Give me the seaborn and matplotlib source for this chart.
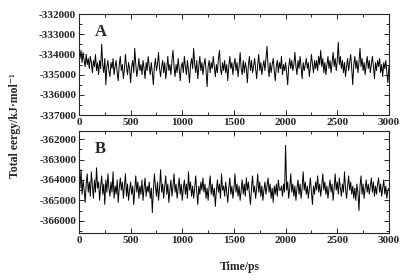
import numpy as np
import seaborn as sns
import matplotlib
matplotlib.use("Agg")
import matplotlib.pyplot as plt
from matplotlib.ticker import MultipleLocator

# sampling times (ps), one point every 10 ps
time_ps = np.arange(0, 3001, 10)

energy_A = [
    -333600, -334200, -333800, -334400, -333900, -334300, -334600, -334000, -334500, -334200,
    -334700, -334100, -334400, -334900, -334300, -334600, -334000, -334800, -334400, -335000,
    -334300, -334700, -333500, -334500, -334900, -334200, -335500, -334600, -334300, -334800,
    -335100, -334400, -334700, -334200, -335000, -334600, -334300, -334900, -335300, -334500,
    -334100, -334800, -334500, -335200, -334700, -334000, -334600, -335000, -334400, -334700,
    -335400, -334600, -334300, -334900, -333700, -334500, -335100, -334700, -334200, -334800,
    -334500, -335000, -334300, -334700, -335200, -334400, -334800, -334100, -334600, -335000,
    -334400, -334900, -335500, -334600, -334200, -334800, -334500, -333900, -334700, -335100,
    -334600, -334300, -334900, -334400, -335200, -334700, -334100, -334800, -334500, -335000,
    -334300, -333800, -334600, -335100, -334500, -334900, -334200, -334700, -335300, -334600,
    -334400, -334900, -334100, -334600, -335000, -334300, -334800, -335400, -334500, -334200,
    -334700, -333700, -334500, -334900, -334300, -335200, -334600, -334100, -334800, -334400,
    -335000, -334500, -334200, -334800, -335600, -334600, -334300, -334900, -334400, -334700,
    -334100, -334600, -335100, -334500, -334900, -334200, -333800, -334700, -335000, -334400,
    -334800, -334300, -334900, -334500, -335300, -334600, -334100, -334700, -334400, -335000,
    -334500, -334200, -334800, -334400, -335100, -334600, -333900, -334700, -335000, -334300,
    -334900, -334400, -334700, -335400, -334500, -334100, -334800, -334300, -334900, -334600,
    -334200, -334700, -335200, -334500, -334000, -334800, -334400, -335000, -334600, -334300,
    -334800, -334200, -333600, -334600, -335100, -334400, -334900, -334500, -334200, -334800,
    -335300, -334600, -334300, -334900, -334400, -334700, -334100, -335000, -334500, -334800,
    -334400, -334900, -335500, -334600, -334200, -334700, -334300, -334800, -334500, -333900,
    -334600, -335000, -334300, -334700, -334100, -334600, -335200, -334400, -334800, -334500,
    -334200, -334700, -334400, -335100, -334600, -334000, -334500, -334900, -334300, -334700,
    -334300, -334800, -334100, -334500, -333800, -334600, -334200, -334900, -334400, -335000,
    -334500, -334100, -334700, -334300, -334900, -334400, -333900, -334600, -334200, -334800,
    -334300, -333400, -334500, -334100, -334700, -334300, -334900, -334400, -335100, -334600,
    -334200, -334800, -334400, -334000, -334700, -335500, -334500, -334100, -334700, -334300,
    -334900, -334400, -333700, -334600, -334200, -334800, -334400, -335000, -334500, -334100,
    -334700, -334300, -334900, -334500, -334100, -334600, -335200, -334400, -334800, -334300,
    -334600, -334200, -334900, -334500, -335100, -334400, -334700, -334300, -334900, -335400,
    -334600,
]

energy_B = [
    -363800, -364400, -363500, -364700, -364000, -364500, -365100, -364200, -363700, -364600,
    -364100, -364800, -363600, -364300, -364900, -364000, -364600, -363400, -364400, -364100,
    -365000, -364300, -363800, -364700, -364200, -365200, -364000, -364600, -363700, -364400,
    -364800, -364100, -364600, -363600, -364900, -364300, -364700, -364000, -365100, -364400,
    -363900, -364500, -364100, -364900, -364300, -363700, -364800, -364200, -365000, -364500,
    -364100, -364700, -364300, -365200, -364500, -363800, -364600, -364100, -364900, -364300,
    -364700, -364000, -365000, -364400, -363900, -364800, -364300, -364600, -364100, -364900,
    -364400, -365600, -364500, -363700, -364300, -364800, -364100, -365000, -364400, -363500,
    -364600, -364200, -364900, -364300, -363800, -364700, -364200, -365100, -364500, -364000,
    -364800, -364300, -363700, -364600, -364200, -364900, -364400, -363900, -364700, -364200,
    -365000, -364400, -364000, -364700, -364200, -364900, -363600, -364500, -364100, -364800,
    -364300, -364900, -364400, -363800, -364600, -365200, -364300, -364700, -364100, -364500,
    -363900, -364600, -364200, -364900, -364400, -365000, -364300, -363800, -364700, -364200,
    -364800, -364400, -365300, -364500, -364000, -364600, -364200, -364900, -363700, -364500,
    -364300, -364800, -364100, -364600, -365100, -364400, -363900, -364700, -364300, -364900,
    -364400, -363700, -364600, -364200, -364800, -364300, -365000, -364500, -364000, -364700,
    -364200, -364800, -363900, -364500, -364100, -364700, -365200, -364400, -363800, -364600,
    -364300, -364900, -364400, -363700, -364600, -364100, -364800, -364300, -365000, -364500,
    -364100, -364700, -364300, -363900, -364600, -364200, -364900, -364400, -365100, -364300,
    -364700, -364200, -364800, -364000, -364500, -364500, -364300, -364800, -364200, -364600,
    -362300, -364500, -364100, -364900, -364400, -363700, -364600, -364200, -364800, -364300,
    -365000, -364400, -364000, -364700, -364200, -364900, -364400, -363600, -364500, -364100,
    -364700, -364300, -364900, -364400, -363900, -364600, -365200, -364300, -364700, -364100,
    -364500, -363800, -364600, -364200, -364800, -364300, -363700, -364500, -364100, -364700,
    -364300, -364900, -364400, -364000, -364600, -364200, -365000, -364400, -363700, -364500,
    -364100, -364700, -363900, -364400, -364800, -364200, -364600, -363600, -364400, -364900,
    -364300, -363800, -364500, -364100, -364700, -364300, -364900, -364400, -365000, -364200,
    -364600, -365500, -364300, -363800, -364700, -364200, -364900, -364400, -364000, -364600,
    -364200, -364700, -364300, -363900, -364600, -364100, -364800, -364300, -364700, -364200,
    -363900, -364600, -364200, -364800, -364400, -364000, -364700, -364300, -364900, -364500,
    -364400,
]

sns.set_style("ticks")
plt.rcParams['font.family'] = ['Liberation Serif', 'DejaVu Serif']
plt.rcParams['font.weight'] = 'bold'
plt.rcParams['axes.unicode_minus'] = False

fig = plt.figure(figsize=(4.2, 2.8), dpi=100)
ax0 = fig.add_axes([0.188, 0.589, 0.738, 0.361])
ax1 = fig.add_axes([0.188, 0.168, 0.738, 0.364])

panels = [
    (ax0, energy_A, (-337000, -332000), "A"),
    (ax1, energy_B, (-366600, -361600), "B"),
]

for ax, energy, ylim, letter in panels:
    sns.lineplot(x=time_ps, y=energy, ax=ax, color="black", linewidth=0.7)
    ax.set_xlim(0, 3000)
    ax.set_ylim(*ylim)
    ax.xaxis.set_major_locator(MultipleLocator(500))
    ax.xaxis.set_minor_locator(MultipleLocator(250))
    ax.yaxis.set_major_locator(MultipleLocator(1000))
    ax.yaxis.set_minor_locator(MultipleLocator(500))
    ax.tick_params(which="both", direction="in", top=True, right=True,
                   labelsize=8, pad=2, width=0.7)
    ax.tick_params(which="major", length=3.5)
    ax.tick_params(which="minor", length=2)
    for lab in ax.get_xticklabels() + ax.get_yticklabels():
        lab.set_fontweight("bold")
    for sp in ax.spines.values():
        sp.set_linewidth(0.8)
    ax.text(0.05, 0.78, letter, transform=ax.transAxes, fontsize=12,
            fontweight="bold")
    ax.set_xlabel("")
    ax.set_ylabel("")

fig.text(0.57, 0.035, "Time/ps", ha="center", fontsize=8.5, fontweight="bold")
fig.text(0.035, 0.55, "Total eergy/kJ\u00b7mol\u207b\u00b9", rotation=90,
         va="center", ha="center", fontsize=8.5, fontweight="bold")

fig.savefig("out.png", dpi=100)
